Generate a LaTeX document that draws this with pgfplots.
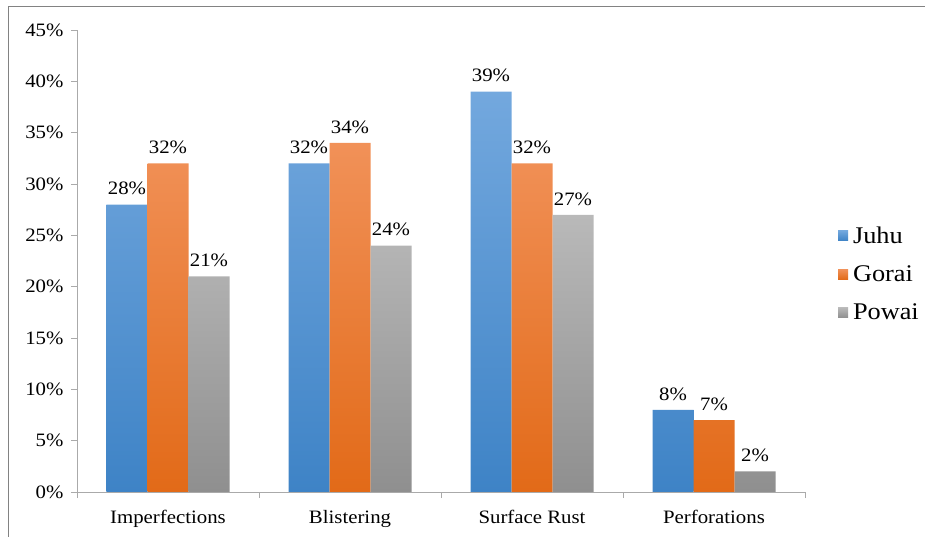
\documentclass[border=0pt]{standalone}
\usepackage{fontspec}
\setmainfont{Liberation Serif}[FakeStretch=1.1]
\usepackage{pgfplots}
\pgfplotsset{compat=1.18}
\definecolor{juhuT}{RGB}{115,168,222}
\definecolor{juhuB}{RGB}{62,131,198}
\definecolor{goraiT}{RGB}{241,145,88}
\definecolor{goraiB}{RGB}{226,106,24}
\definecolor{powaiT}{RGB}{185,185,185}
\definecolor{powaiB}{RGB}{143,143,143}
\definecolor{axgray}{RGB}{170,170,170}
\definecolor{framegray}{RGB}{130,130,130}
\begin{document}
\begin{tikzpicture}
\path[use as bounding box] (0,0) rectangle (925bp,537bp);
\draw[framegray, line width=1bp] (8bp,0) -- (8bp,530bp) -- (925bp,530bp);
\begin{axis}[
  at={(77bp,45bp)}, anchor=south west,
  scale only axis, width=728bp, height=462bp,
  ybar=0pt, bar width=41bp,
  xmin=-0.5, xmax=3.5, ymin=0, ymax=45,
  axis x line*=bottom, axis y line*=left,
  axis line style={axgray, line width=1bp},
  tick align=outside, major tick length=6bp,
  tick style={axgray, line width=1bp},
  xtick={-0.5,0.5,1.5,2.5,3.5}, xticklabels={},
  extra x ticks={0,1,2,3},
  extra x tick labels={Imperfections,Blistering,Surface Rust,Perforations},
  extra x tick style={major tick length=0pt},
  ytick={0,5,10,15,20,25,30,35,40,45},
  yticklabels={0\%,5\%,10\%,15\%,20\%,25\%,30\%,35\%,40\%,45\%},
  ticklabel style={font=\fontsize{19}{21}\selectfont, black},
  yticklabel style={xshift=-4bp},
  xticklabel style={yshift=-15bp},
  nodes near coords={\pgfmathprintnumber[assume math mode=true]{\pgfplotspointmeta}\%},
  every node near coord/.append style={font=\fontsize{19}{21}\selectfont, black, yshift=6bp},
  legend style={draw=none, at={(1.041,0.472)}, anchor=west,
    font=\fontsize{24}{27}\selectfont, row sep=17bp, legend cell align=left,
    /tikz/every odd column/.append style={xshift=0bp}},
  legend image code/.code={\path[#1, draw=none] (0bp,-5bp) rectangle (10bp,5bp);},
]
\addplot[draw=none, top color=juhuT, bottom color=juhuB] coordinates {(0,28) (1,32) (2,39) (3,8)};
\addplot[draw=none, top color=goraiT, bottom color=goraiB] coordinates {(0,32) (1,34) (2,32) (3,7)};
\addplot[draw=none, top color=powaiT, bottom color=powaiB] coordinates {(0,21) (1,24) (2,27) (3,2)};
\legend{\hspace{3bp}Juhu,\hspace{3bp}Gorai,\hspace{3bp}Powai}
\end{axis}
\end{tikzpicture}
\end{document}
